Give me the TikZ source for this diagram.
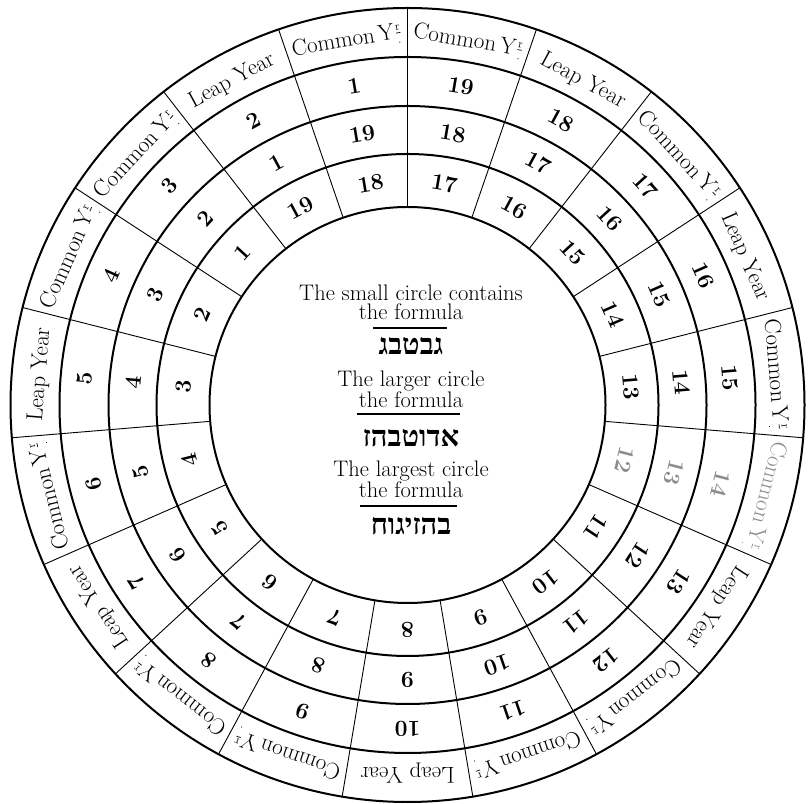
\documentclass[tikz,border=0pt]{standalone}
\usepackage{amsmath}
\usepackage{fontspec}
\newfontfamily\hebfont[Script=Hebrew]{Liberation Serif}
\TeXXeTstate=1
\newcommand\Yr{Y\kern0.03em\raisebox{0.06em}{$\genfrac{}{}{0.7pt}{2}{\mathrm{r}}{.}$}}
\newcommand\cy{Common\,\Yr}
\newcommand\ly{Leap Year}
\begin{document}
\begin{tikzpicture}[x=1pt,y=1pt,
  ring/.style={line width=2pt},
  spoke/.style={line width=0.9pt},
  yrlabel/.style={font=\fontsize{23}{25}\selectfont, anchor=base, inner sep=0pt},
  num/.style={font=\fontsize{23}{25}\selectfont\bfseries, inner sep=0pt},
  ctext/.style={font=\fontsize{22.5}{25}\selectfont, anchor=base, inner sep=0pt},
  heb/.style={font=\fontsize{29}{31}\selectfont\hebfont\bfseries, anchor=base, inner sep=0pt},
  formrule/.style={line width=2.8pt}
]
\useasboundingbox (0,0) rectangle (811,803);
\coordinate (O) at (407.5,398);
\begin{scope}[shift={(O)}]
  \foreach \r in {397,348,299,251,198} \draw[ring] (0,0) circle[radius=\r];
  \foreach \k in {0,...,18} \draw[spoke] (90+\k*18.947368:198) -- (90+\k*18.947368:397);
  \foreach \lab [count=\j from 0] in {\cy,\ly,\cy,\cy,\ly,\cy,\ly,\cy,\cy,\ly,\cy,\cy,\ly,\cy,\cy,\ly,\cy,\ly,\cy}{
    \pgfmathsetmacro\a{99.473684+\j*18.947368}
    \pgfmathtruncatemacro\na{\j+1}
    \pgfmathtruncatemacro\nb{mod(\j+18,19)+1}
    \pgfmathtruncatemacro\nc{mod(\j+17,19)+1}
    \ifnum\j=13 \def\tc{black!45}\else\def\tc{black}\fi
    \node[yrlabel, rotate=\a-90, text=\tc] (o\j) at (\a:363) {\lab};
    \node[num, rotate=\a-90, text=\tc] (a\j) at (\a:323.5) {\na};
    \node[num, rotate=\a-90, text=\tc] (b\j) at (\a:275) {\nb};
    \node[num, rotate=\a-90, text=\tc] (c\j) at (\a:224.5) {\nc};
  }
\end{scope}
\node[ctext] (t1) at (411,502.3) {The small circle contains};
\node[ctext] (t2) at (411,483) {the formula};
\draw[formrule] (373,475) -- (447,475);
\node[heb] (h1) at (411,448) {\beginR גבטבג\endR};
\node[ctext] (t3) at (411,416.3) {The larger circle};
\node[ctext] (t4) at (411,395) {the formula};
\draw[formrule] (357,389) -- (460,389);
\node[heb] (h2) at (411,356) {\beginR אדוטבהז\endR};
\node[ctext] (t5) at (411,326.3) {The largest circle};
\node[ctext] (t6) at (411,305) {the formula};
\draw[formrule] (360,297) -- (457,297);
\node[heb] (h3) at (411,268) {\beginR בהזיגוח\endR};
\end{tikzpicture}
\end{document}
